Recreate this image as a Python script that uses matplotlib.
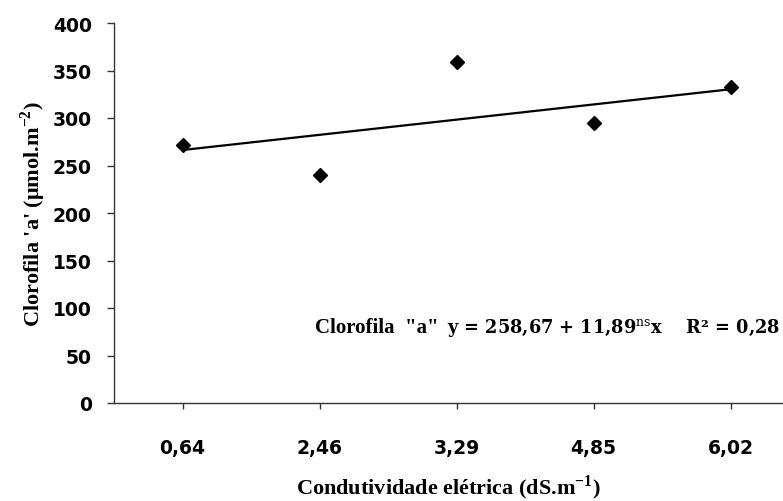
import matplotlib
matplotlib.use("Agg")
import matplotlib.pyplot as plt

plt.rcParams["mathtext.fontset"] = "custom"
plt.rcParams["mathtext.rm"] = "Liberation Serif"
plt.rcParams["mathtext.bf"] = "Liberation Serif:bold"

# data
ce_labels = ["0,64", "2,46", "3,29", "4,85", "6,02"]
ce_values = [0.64, 2.46, 3.29, 4.85, 6.02]
clorofila_a = [271.5, 240, 358.5, 295, 333]
b0 = 258.67
b1 = 11.89

pos = list(range(1, len(ce_labels) + 1))

fig = plt.figure(figsize=(7.83, 5.02), dpi=100)
ax = fig.add_axes([114 / 783, (502 - 404) / 502, (783 - 114) / 783, 380 / 502])

ax.plot(pos, clorofila_a, "D", color="black", markersize=7, zorder=3)
# regression line drawn between first and last treatment
line_y = [b0 + b1 * ce_values[0], b0 + b1 * ce_values[-1]]
ax.plot([pos[0], pos[-1]], line_y, color="black", linewidth=1.6)

ax.set_xlim(0.5, 0.5 + (783 - 114) / 137.0)
ax.set_ylim(0, 400)
ax.set_yticks(range(0, 401, 50))
ax.set_xticks(pos)
ax.set_xticklabels(ce_labels)

for s in ["top", "right"]:
    ax.spines[s].set_visible(False)
for s in ["left", "bottom"]:
    ax.spines[s].set_color("#333333")
    ax.spines[s].set_linewidth(1.0)

ax.tick_params(axis="y", direction="out", length=5, width=1, color="#333333", pad=11)
ax.tick_params(axis="x", direction="out", length=4, width=1, color="#333333", pad=21)
for lab in ax.get_xticklabels() + ax.get_yticklabels():
    lab.set_fontfamily("DejaVu Sans")
    lab.set_fontweight("bold")
    lab.set_fontsize(13.5)

ax.set_ylabel("Clorofila 'a' (μmol.m$^{\\mathbf{-2}}$)", family="Liberation Serif",
              fontweight="bold", fontsize=16, labelpad=3)
ax.set_xlabel("Condutividade elétrica (dS.m$^{\\mathbf{-1}}$)", family="Liberation Serif",
              fontweight="bold", fontsize=16, labelpad=11)

# regression equation
ax.text(0.300, 0.20, 'Clorofila  "a"', transform=ax.transAxes,
        family="Liberation Serif", fontweight="bold", fontsize=15, va="center", ha="left")
ax.text(0.995, 0.20, 'y = 258,67 + 11,89$^{\\rm ns}$x    R² = 0,28', transform=ax.transAxes,
        family="DejaVu Serif", math_fontfamily="dejavuserif", fontweight="bold",
        fontsize=12.8, va="center", ha="right")

fig.savefig("out.png", dpi=100)
